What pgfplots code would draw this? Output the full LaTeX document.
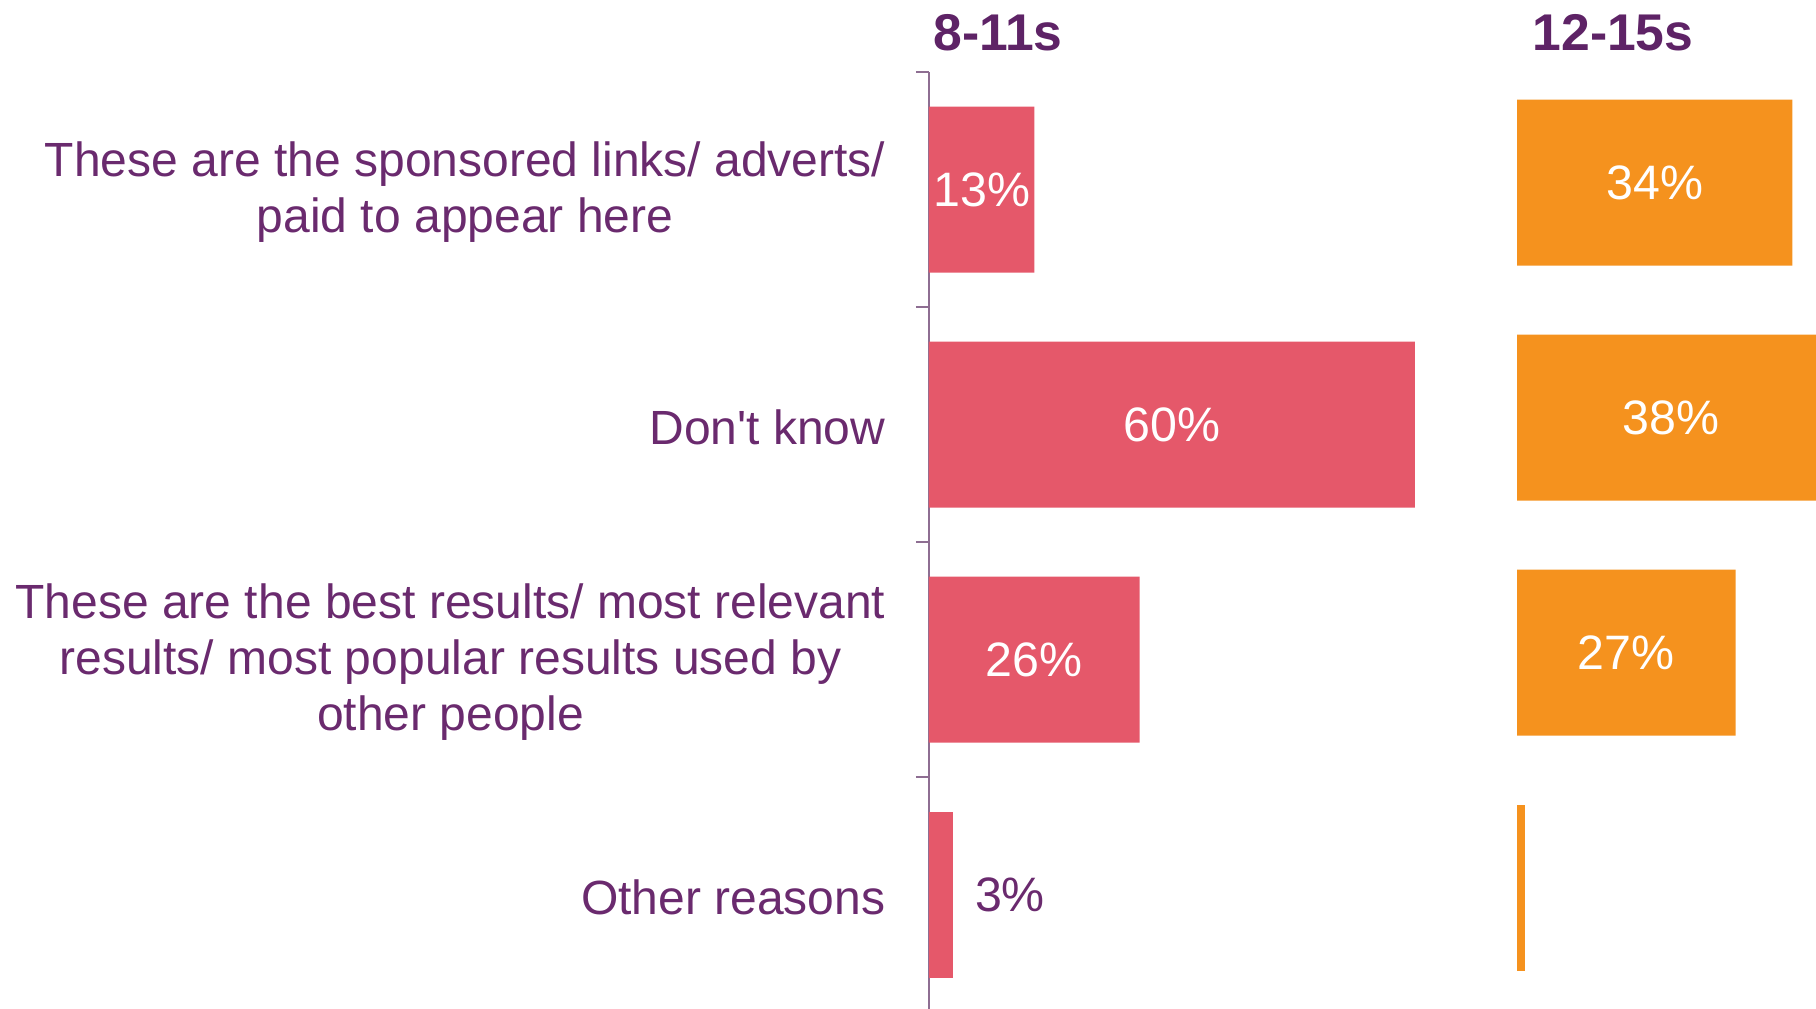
\documentclass[border=0pt]{standalone}
\usepackage{pgfplots}
\pgfplotsset{compat=1.18}
\usepackage{fontspec}
\setmainfont{Liberation Sans}[Ligatures=TeXOff]
\definecolor{barred}{HTML}{E5586A}
\definecolor{barorange}{HTML}{F5921E}
\definecolor{txtpurple}{HTML}{6A2A6E}
\definecolor{ttlpurple}{HTML}{5E2366}
\definecolor{axispurple}{HTML}{8E6E92}
\begin{document}
\begin{tikzpicture}[x=0.3pt,y=0.3pt]
\path[use as bounding box] (0,0) rectangle (1816,1009);
% left panel 8-11s
\begin{axis}[
  at={(278.7pt,-0.9pt)}, anchor=south west,
  scale only axis, width=145.8pt, height=282pt,
  xmin=0, xmax=60, ymin=0.5, ymax=4.5, y dir=reverse,
  axis x line=none, axis y line*=left,
  axis line style={draw=axispurple, line width=0.45pt},
  ytick={1,2,3,4},
  yticklabels={{These are the sponsored links/ adverts/\\paid to appear here},
               {Don't know},
               {These are the best results/ most relevant\\results/ most popular results used by\\other people},
               {Other reasons}},
  major tick length=0pt,
  minor ytick={0.5,1.5,2.5,3.5,4.5},
  minor tick length=3.9pt,
  tick align=outside,
  tick style={draw=axispurple, line width=0.45pt},
  yticklabel style={font=\fontsize{14.4}{16.7}\selectfont, text=txtpurple, align=center, inner sep=0pt, xshift=-12.9pt, yshift=-0.8pt},
  /pgf/number format/assume math mode=true,
  clip=false,
]
\addplot[xbar, fill=barred, draw=none, bar shift=0pt, bar width=49.8pt,
  nodes near coords={\pgfmathprintnumber{\pgfplotspointmeta}\%},
  visualization depends on=rawx \as \rawx,
  every node near coord/.append style={anchor=center, text=white, font=\fontsize{14.5}{16}\selectfont, shift={(axis direction cs:-0.5*\rawx,0)}},
] coordinates {(13,1) (60,2) (26,3)};
\addplot[xbar, fill=barred, draw=none, bar shift=0pt, bar width=49.8pt,
  nodes near coords={\pgfmathprintnumber{\pgfplotspointmeta}\%},
  every node near coord/.append style={anchor=west, text=txtpurple, font=\fontsize{14.5}{16}\selectfont, xshift=3pt},
] coordinates {(3,4)};
\end{axis}
% right panel 12-15s
\begin{axis}[
  at={(455.1pt,1.2pt)}, anchor=south west,
  scale only axis, width=97.2pt, height=282pt,
  xmin=0, xmax=40, ymin=0.5, ymax=4.5, y dir=reverse,
  hide axis,
  /pgf/number format/assume math mode=true,
  clip=false,
]
\addplot[xbar, fill=barorange, draw=none, bar shift=0pt, bar width=49.8pt,
  nodes near coords={\pgfmathprintnumber{\pgfplotspointmeta}\%},
  visualization depends on=rawx \as \rawx,
  every node near coord/.append style={anchor=center, text=white, font=\fontsize{14.5}{16}\selectfont, shift={(axis direction cs:-0.5*\rawx,0)}},
] coordinates {(34,1) (38,2) (27,3)};
\addplot[xbar, fill=barorange, draw=none, bar shift=0pt, bar width=49.8pt] coordinates {(1,4)};
\end{axis}
\node[font=\bfseries\fontsize{15.5}{18}\selectfont, text=ttlpurple] at (998,976) {8-11s};
\node[font=\bfseries\fontsize{15.5}{18}\selectfont, text=ttlpurple] at (1613,976) {12-15s};
\end{tikzpicture}
\end{document}
